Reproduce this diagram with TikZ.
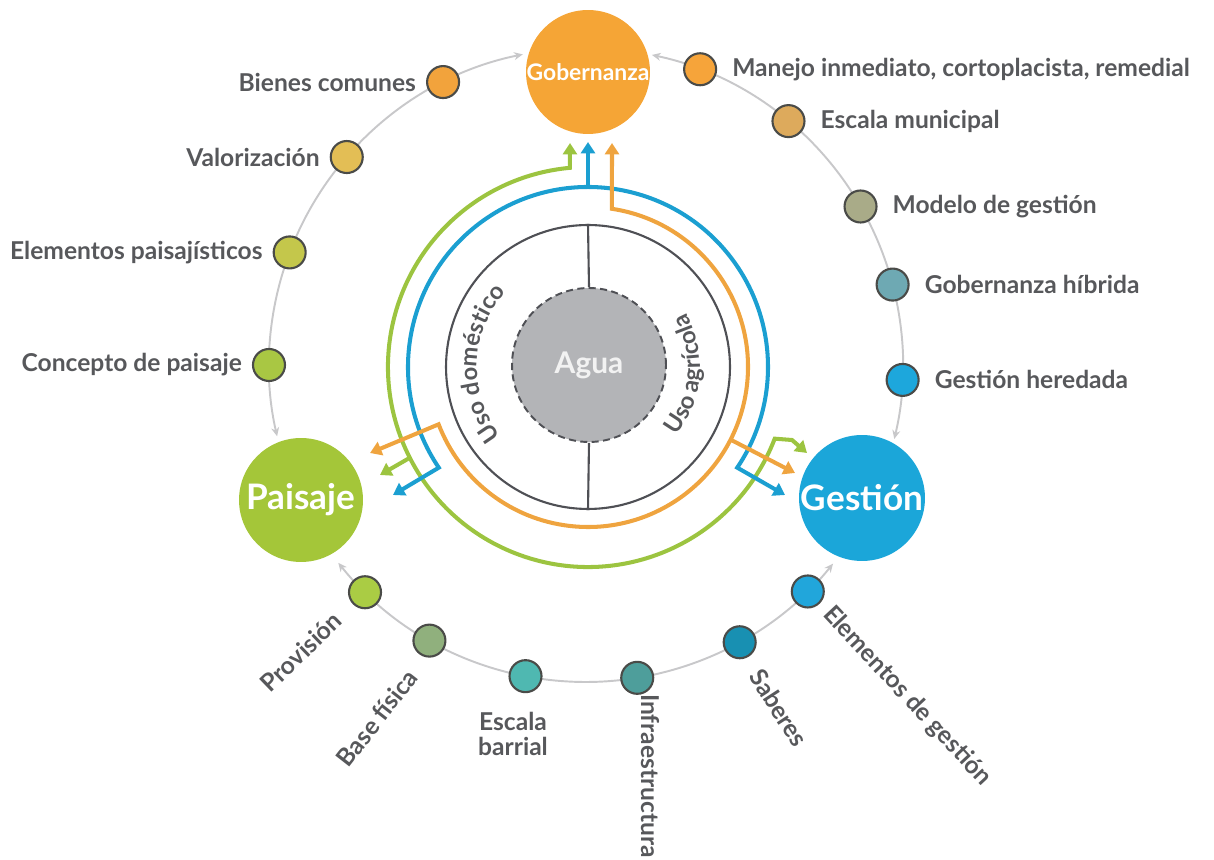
\documentclass[tikz,border=0pt]{standalone}
\usepackage{fontspec}
\setmainfont{Lato}
\usepackage{tikz}
\usetikzlibrary{positioning, arrows.meta, decorations.text}

\definecolor{gobOrange}{HTML}{F5A536}
\definecolor{paiGreen}{HTML}{A4C639}
\definecolor{gesBlue}{HTML}{1BA6D9}
\definecolor{aguaGray}{HTML}{B3B4B7}
\definecolor{aguaText}{HTML}{F2F2F2}
\definecolor{lnGreen}{HTML}{9CC440}
\definecolor{lnBlue}{HTML}{1B9FD1}
\definecolor{lnOrange}{HTML}{EFA43F}
\definecolor{txtgray}{HTML}{57585B}
\definecolor{ringgray}{HTML}{C8C8CA}
\definecolor{innergray}{HTML}{4F5055}
\definecolor{dotline}{HTML}{4A4B48}
% small circles
\definecolor{cBien}{HTML}{F2A33C}
\definecolor{cValo}{HTML}{E3BE55}
\definecolor{cElep}{HTML}{C4C74B}
\definecolor{cConc}{HTML}{A9C743}
\definecolor{cMane}{HTML}{F6A43A}
\definecolor{cEscm}{HTML}{DDAA5C}
\definecolor{cMode}{HTML}{A9AB88}
\definecolor{cHibr}{HTML}{6EA9B3}
\definecolor{cHere}{HTML}{1DA7DC}
\definecolor{cProv}{HTML}{AACC44}
\definecolor{cBase}{HTML}{90B07D}
\definecolor{cEscb}{HTML}{4FB8B1}
\definecolor{cInfr}{HTML}{4E9E9B}
\definecolor{cSabe}{HTML}{1890B2}
\definecolor{cElge}{HTML}{21A6DB}

\newcommand{\usotxt}{\bfseries\fontsize{13.5}{15}\selectfont\color{txtgray}}

\tikzset{
  big/.style={circle, minimum size=2.48cm, inner sep=0pt, text=white, font=\bfseries\fontsize{20}{22}\selectfont},
  dot/.style={circle, draw=dotline, line width=1.2pt, minimum size=0.64cm, inner sep=0pt},
  lbl/.style={text=txtgray, font=\bfseries\fontsize{14}{16}\selectfont, inner sep=1pt},
  ring/.style={draw=ringgray, line width=1.1pt, {Stealth[length=5pt,width=4.5pt]}-{Stealth[length=5pt,width=4.5pt]}},
  flow/.style={line width=2.3pt, >={Triangle[length=6.5pt,width=8pt]}},
}

\begin{document}
\begin{tikzpicture}[x=0.02cm, y=0.02cm]
\useasboundingbox (0,0) rectangle (1214,859);

% Centres
\coordinate (ctr) at (586,494);
\coordinate (cin) at (588,492);

% Outer ring
\draw[ring] ([shift={(101.5:317)}]ctr) arc[start angle=101.5, end angle=193, radius=317];
\draw[ring] ([shift={(78:317)}]ctr) arc[start angle=78, end angle=-13.5, radius=317];
\draw[ring] ([shift={(218.6:317)}]ctr) arc[start angle=218.6, end angle=321.2, radius=317];

% Small circles
\foreach \a/\c/\t/\n in {116.8/cBien/Bienes comunes/bien, 139/cValo/Valorización/valo,
    159.2/cElep/Elementos paisajísticos/elep, 180/cConc/Concepto de paisaje/conc}
  \node[dot, fill=\c, label={[lbl, label distance=0.16cm]left:{\t}}] (\n) at ([shift={(\a:317)}]ctr) {};
\foreach \a/\c/\t/\n in {68.9/cMane/{Manejo inmediato, cortoplacista, remedial}/mane,
    50.3/cEscm/Escala municipal/escm, 30/cMode/Modelo de gestión/mode,
    14.7/cHibr/Gobernanza híbrida/hibr, -2.7/cHere/Gestión heredada/here}
  \node[dot, fill=\c, label={[lbl, label distance=0.26cm]right:{\t}}] (\n) at ([shift={(\a:317)}]ctr) {};
\foreach \a/\c/\n in {-134.2/cProv/prov, -119.6/cBase/base, -101/cEscb/escb,
    -80.7/cInfr/infr, -61/cSabe/sabe, -45.6/cElge/elge}
  \node[dot, fill=\c] (\n) at ([shift={(\a:317)}]ctr) {};

% Bottom labels
\node[lbl, rotate=44] (provT) at (301,207) {Provisión};
\node[lbl, rotate=52] (baseT) at (377,141) {Base física};
\node[lbl, align=center, font=\bfseries\fontsize{14}{14.5}\selectfont] (escbT) at (513,125) {Escala\\barrial};
\node[lbl, rotate=-90] (infrT) at (650,83) {Infraestructura};
\node[lbl, rotate=-57] (sabeT) at (779,151) {Saberes};
\node[lbl, rotate=-47] (elgeT) at (907,163) {Elementos de gestión};

% Main circles
\node[big, fill=gobOrange, font=\bfseries\fontsize{13}{15}\selectfont] (gob) at (588,787) {Gobernanza};
\node[big, fill=paiGreen] (pai) at (301,359) {Paisaje};
\node[big, fill=gesBlue, minimum size=2.52cm] (ges) at (862,361) {Gestión};

% Water
\node[circle, draw=innergray, line width=1.2pt, minimum size=5.68cm] (inner) at (cin) {};
\node[circle, fill=aguaGray, draw=innergray, dashed, dash pattern=on 4pt off 2.5pt, line width=1.1pt,
  minimum size=3.08cm, text=aguaText, font=\bfseries\fontsize{17}{19}\selectfont] (agua) at (589,494) {Agua};
\draw[innergray, line width=1.2pt] (inner.north) -- (agua.north);
\draw[innergray, line width=1.2pt] (agua.south) -- (inner.south);

\path[decorate, decoration={text along path, text align=center, text={|\usotxt|Uso doméstico}}]
  ([shift={(225:111)}]cin) arc[start angle=225, end angle=131, radius=111];
\path[decorate, decoration={text along path, text align=center, text={|\usotxt|Uso agrícola}}]
  ([shift={(-50:112)}]cin) arc[start angle=-50, end angle=41, radius=112];

% Arrow ends
\coordinate (gTtip) at (570,716);
\coordinate (bTtip) at (588,717);
\coordinate (oTtip) at (612,716);
\coordinate (oLtip) at (370,406);
\coordinate (gLtip) at (380,384);
\coordinate (bLtip) at (393,364);
\coordinate (gRbend) at (792,419);
\coordinate (gRtip) at (807,406);
\coordinate (oRtip) at (795,386);
\coordinate (bRtip) at (785,364);

% Flows
\draw[flow, lnGreen, <->] (gRtip) -- (gRbend) -- ([shift={(-21:200)}]cin)
  arc[start angle=-21, end angle=-264.8, radius=200] -- (gTtip);
\draw[flow, lnGreen, ->] ([shift={(207:200)}]cin) -- (gLtip);
\draw[flow, lnBlue, <->] (bLtip) -- ([shift={(214:180)}]cin)
  arc[start angle=214, end angle=-34, radius=180] -- (bRtip);
\draw[flow, lnBlue, ->] ([shift={(90:180)}]cin) -- (bTtip);
\draw[flow, lnOrange, <->] (oTtip) -- ([shift={(81.4:160)}]cin)
  arc[start angle=81.4, end angle=-159, radius=160] -- (oLtip);
\draw[flow, lnOrange, ->] ([shift={(-27:160)}]cin) -- (oRtip);

\end{tikzpicture}
\end{document}
